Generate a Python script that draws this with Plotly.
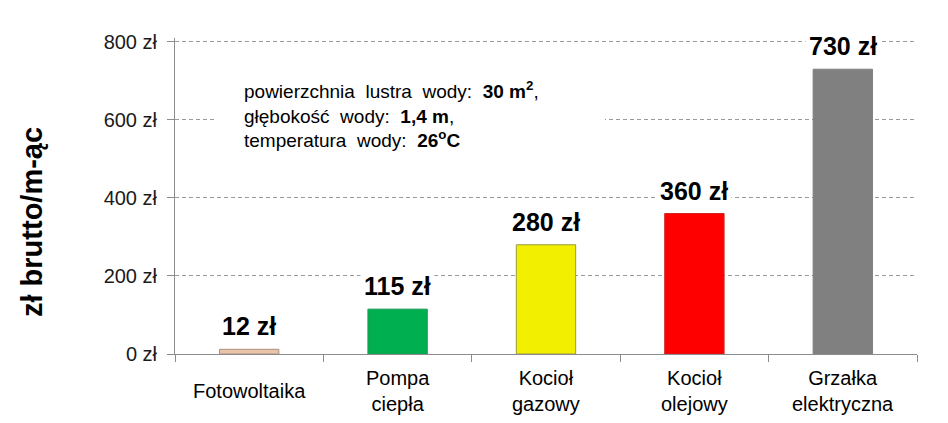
import plotly.graph_objects as go

# monthly heating cost of a pool, by heat source
categories = ["Fotowoltaika", "Pompa<br>ciepła", "Kocioł<br>gazowy", "Kocioł<br>olejowy", "Grzałka<br>elektryczna"]
costs = [12, 115, 280, 360, 730]
cost_labels = ["12 zł", "115 zł", "280 zł", "360 zł", "730 zł"]
bar_colors = ["#e8c4aa", "#00b050", "#f2f000", "#ff0000", "#808080"]
bar_edges = ["#b09080", "#1a9a50", "#9a9a40", "#d02020", "#808080"]

y_ticks = [0, 200, 400, 600, 800]
y_ticktext = ["0 zł", "200 zł", "400 zł", "600 zł", "800 zł"]

info_text = (
    "powierzchnia&nbsp; lustra&nbsp; wody:&nbsp; <b>30 m<sup>2</sup></b>,<br>"
    "głębokość&nbsp; wody:&nbsp; <b>1,4 m</b>,<br>"
    "temperatura&nbsp; wody:&nbsp; <b>26<sup>o</sup>C</b>"
)

FONT = "Liberation Sans, Arial, sans-serif"
AXIS_GRAY = "#8c8c8c"

# page body has an 8px margin, so the figure is 8px smaller than the window
W, H = 940, 415
ML, MR, MT, MB = 167, 31, 30, 69
PW, PH = W - ML - MR, H - MT - MB

fig = go.Figure()

fig.add_trace(go.Bar(
    x=categories,
    y=costs,
    width=0.4,
    marker=dict(color=bar_colors, line=dict(color=bar_edges, width=1)),
    showlegend=False,
    hoverinfo="skip",
))

# value labels above the bars, white box cuts the gridlines
for cat, val, lab in zip(categories, costs, cost_labels):
    fig.add_annotation(
        x=cat, y=val, xref="x", yref="y",
        text="<b>" + lab + "</b>",
        showarrow=False,
        yanchor="middle", yshift=23,
        font=dict(size=25, color="black", family=FONT),
        bgcolor="white", borderpad=3,
    )

# category labels, vertically centred like in the original
for cat in categories:
    fig.add_annotation(
        x=cat, y=-37 / PH, xref="x", yref="paper",
        text=cat, showarrow=False,
        yanchor="middle", align="center",
        font=dict(size=20, color="black", family=FONT),
    )

# y axis title, sits a bit below the middle of the plot
fig.add_annotation(
    x=0, y=(PH - 184) / PH, xref="paper", yref="paper",
    xshift=-143,
    text="<b>zł brutto/m-ąc</b>", textangle=-90, showarrow=False,
    xanchor="center", yanchor="middle",
    font=dict(size=29, color="black", family=FONT),
)

# white box behind the info text
fig.add_shape(
    type="rect", xref="paper", yref="paper",
    x0=40 / PW, x1=430 / PW,
    y0=(PH - 137) / PH, y1=(PH - 17) / PH,
    fillcolor="white", line=dict(width=0), layer="above",
)

fig.add_annotation(
    x=67 / PW, y=(PH - 77) / PH,
    xref="paper", yref="paper",
    text=info_text, showarrow=False,
    xanchor="left", yanchor="middle", align="left",
    font=dict(size=19, color="black", family=FONT),
)

fig.update_layout(
    width=W,
    height=H,
    plot_bgcolor="white",
    paper_bgcolor="white",
    margin=dict(l=ML, r=MR, t=MT, b=MB),
    bargap=0.6,
)

fig.update_xaxes(
    showticklabels=False,
    tickson="boundaries",
    ticks="outside",
    ticklen=7,
    tickcolor=AXIS_GRAY,
    showline=True,
    linecolor=AXIS_GRAY,
    showgrid=False,
    fixedrange=True,
)
fig.update_yaxes(
    range=[0, 810],
    tickmode="array",
    tickvals=y_ticks,
    ticktext=y_ticktext,
    ticks="outside",
    ticklen=7,
    tickcolor=AXIS_GRAY,
    ticklabelstandoff=6,
    tickfont=dict(size=20, color="#1a1a1a", family=FONT),
    showline=True,
    linecolor=AXIS_GRAY,
    gridcolor="#9a9a9a",
    griddash="4px,3px",
    zeroline=False,
    fixedrange=True,
)

fig.write_html("out.html")
